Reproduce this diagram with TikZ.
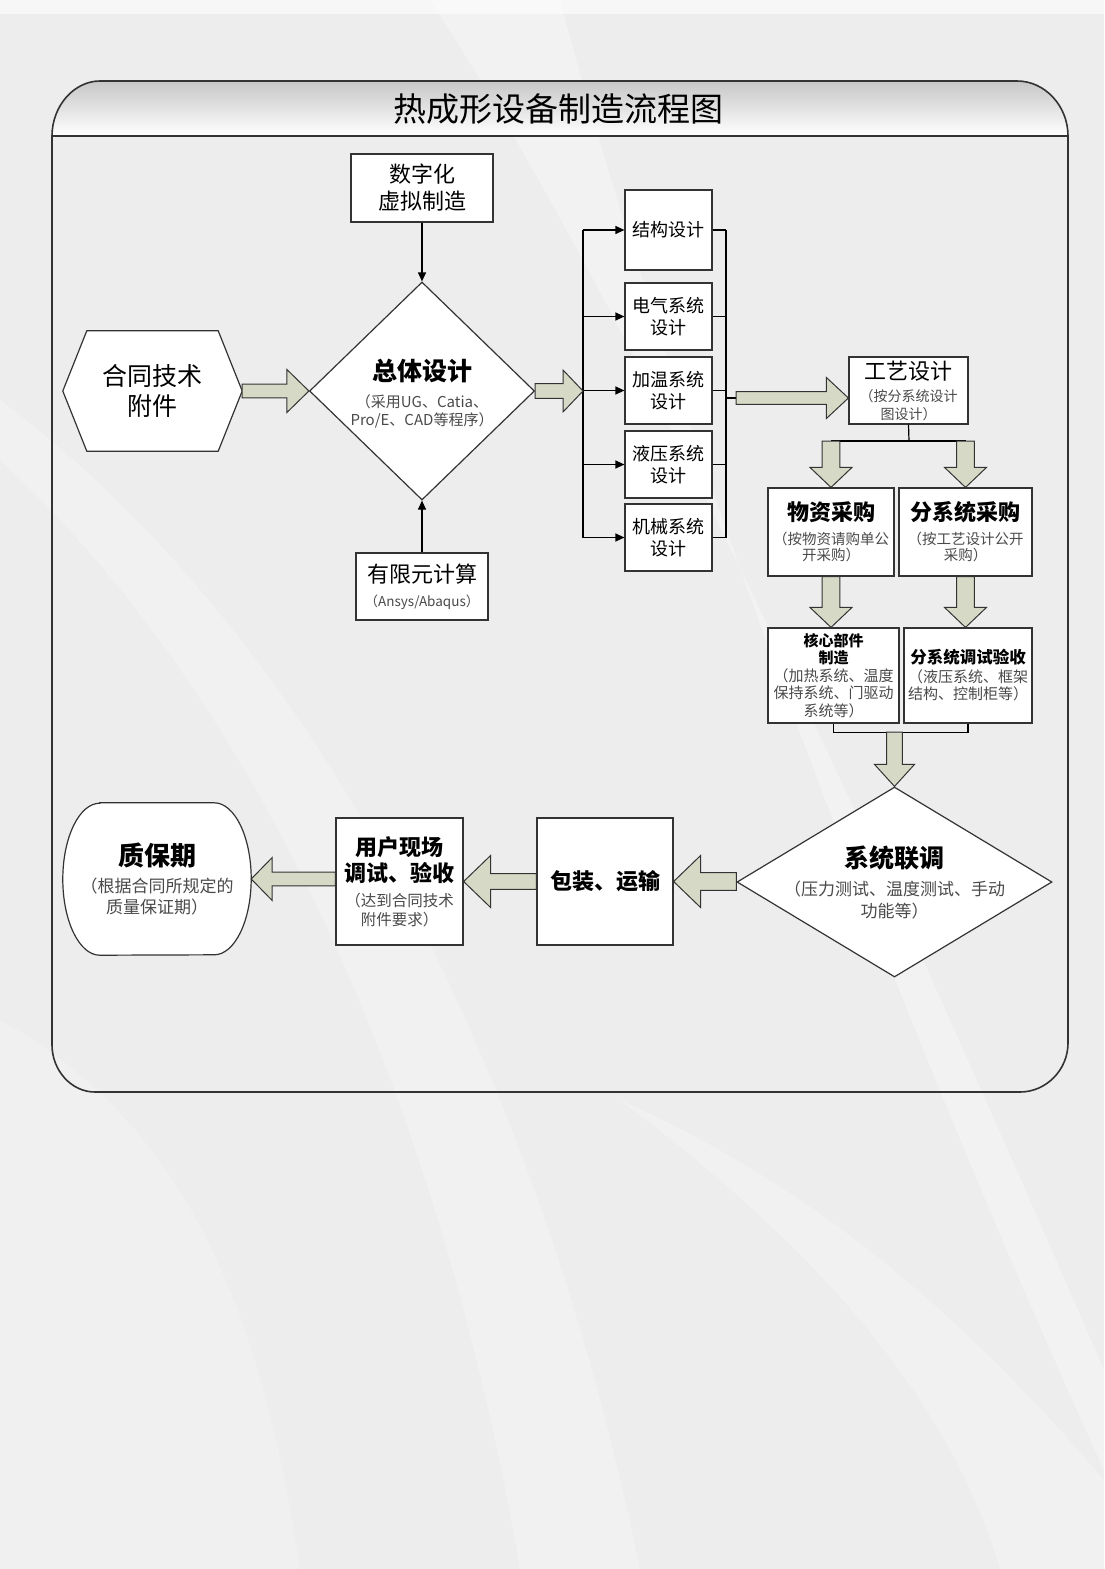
\documentclass[tikz,border=0pt]{standalone}
\usepackage{fontspec}
\setmainfont{Noto Sans CJK SC}
\usetikzlibrary{calc,arrows.meta,shapes.geometric}
\pgfdeclarelayer{back}
\pgfdeclarelayer{shp}
\pgfsetlayers{back,shp,main}
\definecolor{bgc}{HTML}{EDEDED}
\definecolor{ln}{HTML}{333333}
\definecolor{afill}{HTML}{D5D9C6}
\definecolor{subc}{HTML}{4A4A4A}
\newcommand\fz[2]{\fontsize{#1bp}{#2bp}\selectfont}
\newcommand\hd{\color{black}\bfseries}
\tikzset{
 box/.style={draw=ln, line width=1.2bp, fill=white, rectangle, inner sep=0pt, align=center},
 dia/.style={draw=ln, line width=1.2bp, fill=white, diamond, inner sep=0pt},
 ghost/.style={rectangle, inner sep=0pt, align=center},
 txt/.style={inner sep=0pt, align=center},
 conn/.style={draw=black, line width=1.2bp},
 arr/.style={conn, -{Triangle[length=9bp,width=8bp]}},
 barrow/.style={draw=ln, line width=1bp, fill=afill, line join=miter},
 shp/.style={draw=ln, line width=1.2bp, fill=white},
 frame/.style={draw=ln, line width=1.6bp},
 sz/.style 2 args={minimum width=#1bp, minimum height=#2bp}
}
% horizontal block arrow: from, to, shaft half width, head half width, head length
\newcommand{\blockh}[5]{\draw[barrow] let \p1=(#1), \p2=(#2), \n1={sign(\x2-\x1)} in
  (\x1,\y2+#3) -- (\x2-\n1*#5,\y2+#3) -- (\x2-\n1*#5,\y2+#4) -- (\x2,\y2) --
  (\x2-\n1*#5,\y2-#4) -- (\x2-\n1*#5,\y2-#3) -- (\x1,\y2-#3) -- cycle;}
% vertical block arrow
\newcommand{\blockv}[5]{\draw[barrow] let \p1=(#1), \p2=(#2), \n1={sign(\y2-\y1)} in
  (\x2+#3,\y1) -- (\x2+#3,\y2-\n1*#5) -- (\x2+#4,\y2-\n1*#5) -- (\x2,\y2) --
  (\x2-#4,\y2-\n1*#5) -- (\x2-#3,\y2-\n1*#5) -- (\x2-#3,\y1) -- cycle;}
\begin{document}
\begin{tikzpicture}[x=1bp,y=-1bp]
\useasboundingbox (0,0) rectangle (1104,1569);
\begin{pgfonlayer}{back}
\fill[bgc] (0,0) rectangle (1104,1569);
\fill[white,opacity=0.6] (0,0) rectangle (1104,14);
\fill[white,opacity=0.3] (430,0) .. controls (640,320) and (900,900) .. (1104,1370) -- (1104,1470) .. controls (880,980) and (660,380) .. (560,0) -- cycle;
\fill[white,opacity=0.25] (0,460) .. controls (260,700) and (440,1100) .. (520,1569) -- (640,1569) .. controls (540,1080) and (320,640) .. (0,400) -- cycle;
\fill[white,opacity=0.2] (0,1020) .. controls (180,1120) and (260,1300) .. (300,1569) -- (0,1569) -- cycle;
\fill[white,opacity=0.25] (620,1100) .. controls (820,1250) and (950,1400) .. (1000,1569) -- (1104,1569) -- (1104,1480) .. controls (950,1300) and (800,1180) .. (620,1100) -- cycle;
% title bar
\shade[top color=black!22, bottom color=white] (52,136) .. controls (52,106) and (74,81) .. (100,81) -- (1017,81) .. controls (1045,81) and (1068,106) .. (1068,136) -- cycle;
% frame
\draw[frame] (52,136) .. controls (52,106) and (74,81) .. (100,81) -- (1017,81) .. controls (1045,81) and (1068,106) .. (1068,136) -- (1068,1043) .. controls (1068,1070) and (1046,1092) .. (1020,1092) -- (95,1092) .. controls (71,1092) and (52,1070) .. (52,1045) -- cycle;
\draw[frame] (52,136) -- (1068,136);
\end{pgfonlayer}

\node[txt, font=\fz{33}{36}] (title) at (558,109) {热成形设备制造流程图};

% left part
\node[box, sz={142}{68}, font=\fz{22}{27}] (szh) at (422,188) {数字化\\虚拟制造};
\node[ghost, sz={179}{120}, font=\fz{25}{30}] (hex) at (152.5,391) {合同技术\\附件};
\begin{pgfonlayer}{shp}
\draw[shp] (hex.west) -- ([xshift=24bp]hex.north west) -- ([xshift=-24bp]hex.north east) -- (hex.east) -- ([xshift=-24bp]hex.south east) -- ([xshift=24bp]hex.south west) -- cycle;
\end{pgfonlayer}
\node[dia, sz={225}{218}] (ztsj) at (422,391) {};
\node[txt, font=\fz{15}{18}, text=subc] (ztsj-t) at (422,394) {{\hd\fz{25}{27}总体设计}\\[9bp]（采用UG、Catia、\\Pro/E、CAD等程序）};
\node[box, sz={132}{67}, font=\fz{13.5}{15}, text=subc] (yxy) at (422,586.5) {{\color{black}\fz{22}{25}有限元计算}\\[9bp]（Ansys/Abaqus）};

\draw[arr] (szh.south) -- (ztsj.north);
\draw[arr] (yxy.north) -- (ztsj.south);

% middle column
\node[box, sz={87}{80}, font=\fz{18}{22}] (jg) at (668.5,230) {结构设计};
\node[box, sz={87}{67}, font=\fz{18}{22}] (dq) at (668.5,316.5) {电气系统\\设计};
\node[box, sz={87}{67}, font=\fz{18}{22}] (jw) at (668.5,390.5) {加温系统\\设计};
\node[box, sz={87}{67}, font=\fz{18}{22}] (yy) at (668.5,464.5) {液压系统\\设计};
\node[box, sz={87}{67}, font=\fz{18}{22}] (jx) at (668.5,537.5) {机械系统\\设计};
\coordinate (bl) at (583,391);
\coordinate (br) at (726,398);
\coordinate (bo) at (736,398);
\draw[conn] (jg.west -| bl) -- (jx.west -| bl);
\foreach \n in {jg,dq,jw,yy,jx} \draw[arr] (\n.west -| bl) -- (\n.west);
\draw[conn] (jg.east -| br) -- (jx.east -| br);
\foreach \n in {jg,dq,jw,yy,jx} \draw[conn] (\n.east) -- (\n.east -| br);
\draw[conn] (br) -- (bo);

% right part
\node[box, sz={119}{67}, font=\fz{14}{18}, text=subc] (gy) at (908.5,390.5) {{\color{black}\fz{22}{22}工艺设计}\\[4bp]（按分系统设计\\图设计）};
\node[box, sz={126}{88}, font=\fz{14.5}{16.5}, text=subc] (wz) at (831,532) {{\hd\fz{22}{22}物资采购}\\[7bp]（按物资请购单公\\开采购）};
\node[box, sz={133}{88}, font=\fz{14.5}{16.5}, text=subc] (fxc) at (965.5,532) {{\hd\fz{22}{22}分系统采购}\\[7bp]（按工艺设计公开\\采购）};
\node[box, sz={131}{95}, font=\fz{15}{17.5}, text=subc] (hx) at (833.5,675.5) {{\hd 核心部件}\\{\hd 制造}\\（加热系统、温度\\保持系统、门驱动\\系统等）};
\node[box, sz={128}{95}, font=\fz{15}{17}, text=subc] (fts) at (968,675.5) {{\hd\fz{16.5}{17}分系统调试验收}\\[2bp]（液压系统、框架\\结构、控制柜等）};
\coordinate (sp) at (909,441);
\draw[conn] (gy.south) -- (sp);
\draw[conn] (sp -| wz) -- (sp -| fxc);
\draw[conn] (hx.south) -- ++(0,9) -| (fts.south);
\coordinate (jn) at (893,732);

% bottom row
\node[dia, sz={315}{190}] (xt) at (894.5,882) {};
\node[txt, font=\fz{17}{22}, text=subc] (xt-t) at (894.5,882) {{\hd\fz{25}{25}系统联调}\\[6bp]（压力测试、温度测试、手动\\功能等）};
\node[box, sz={136}{127}, font=\hd\fz{22}{26}] (bz) at (605,881.5) {包装、运输};
\node[box, sz={127}{127}, font=\fz{15.5}{19}, text=subc] (yh) at (399.5,881.5) {{\hd\fz{22}{26}用户现场}\\[4bp]{\hd\fz{22}{26}调试、验收}\\[6bp]（达到合同技术\\附件要求）};
\node[ghost, sz={188}{152}, font=\fz{17}{21}, text=subc] (zbq) at (157,879) {{\hd\fz{26}{26}质保期}\\[6bp]（根据合同所规定的\\质量保证期）};
\begin{pgfonlayer}{shp}
\draw[shp] ([xshift=37bp]zbq.north west) -- ([xshift=-37bp]zbq.north east) arc[start angle=-90,end angle=90,x radius=37,y radius=76] -- ([xshift=37bp]zbq.south west) arc[start angle=90,end angle=270,x radius=37,y radius=76] -- cycle;
\end{pgfonlayer}

% block arrows
\blockh{hex.east}{ztsj.west}{7}{21.5}{22}
\blockh{ztsj.east}{ztsj.east -| bl}{7.5}{21}{20}
\blockh{bo}{gy.west |- bo}{6.5}{20.5}{22}
\blockv{sp -| wz}{wz.north}{9}{21}{20}
\blockv{sp -| fxc}{fxc.north}{9}{21}{20}
\blockv{wz.south}{wz.south |- hx.north}{9}{21}{20}
\blockv{fxc.south}{fxc.south |- fts.north}{9}{21}{20}
\blockv{jn}{xt.north}{8}{20}{22}
\blockh{xt.west}{bz.east}{9}{26}{27}
\blockh{bz.west}{yh.east}{8}{26}{27}
\blockh{yh.west}{zbq.east}{7}{21.5}{21}
\end{tikzpicture}
\end{document}
